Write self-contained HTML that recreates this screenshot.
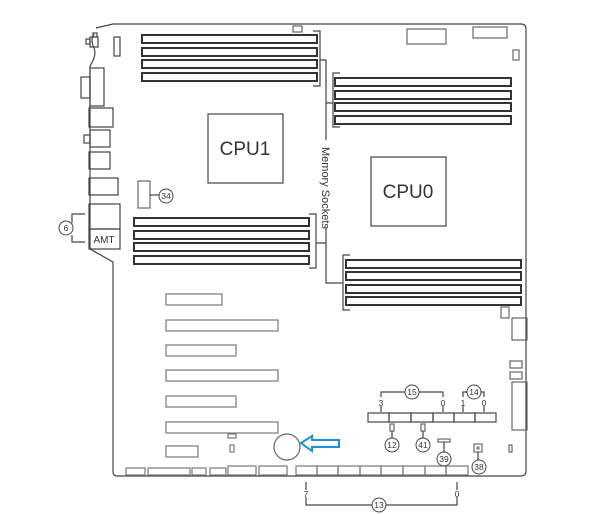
<!DOCTYPE html>
<html><head><meta charset="utf-8"><style>
html,body{margin:0;padding:0;background:#fff;width:616px;height:514px;overflow:hidden}
svg{display:block}
text{font-family:"Liberation Sans",sans-serif;fill:#333}
.n{font-family:"Liberation Sans Narrow","Liberation Sans",sans-serif}
</style></head><body>
<svg width="616" height="514" viewBox="0 0 616 514" xmlns="http://www.w3.org/2000/svg">
<g fill="none" stroke="#444" stroke-width="1.2">
<path d="M96,28 L113,24 L521,24 Q526,24 526,29 L526,471 Q526,476 521,476 L117,476 Q113,476 113,472 L113,262 L90,249 L90,66"/>
<path d="M94,34 Q90,40 94,48 Q97,55 90,66"/>
<rect x="90" y="37" width="8" height="10"/><rect x="86" y="39" width="4" height="5"/><rect x="93" y="33" width="4" height="4"/>
<rect x="114" y="37" width="6" height="19"/>
<rect x="90" y="68" width="14" height="38"/><rect x="81" y="77" width="9" height="21"/>
<rect x="89" y="108" width="24" height="19"/>
<rect x="90" y="130" width="20" height="17"/><rect x="84" y="135" width="6" height="8"/>
<rect x="89" y="152" width="21" height="17"/>
<rect x="89" y="178" width="29" height="17"/>
<rect x="89" y="204" width="31" height="25"/>
<rect x="89" y="229" width="31" height="20"/>
<path d="M85,214 L72,214 L72,223 M72,235 L72,242 L85,242"/>
<circle cx="66" cy="228" r="7" stroke-width="1"/>
<rect x="138" y="181" width="12" height="27" stroke="#666"/>
<line x1="150" y1="195" x2="159" y2="195"/>
<circle cx="166" cy="196" r="7" stroke-width="1"/>
<g stroke="#333" stroke-width="2">
<rect x="142" y="35" width="175" height="8"/><rect x="142" y="48" width="175" height="8"/><rect x="142" y="60" width="175" height="8"/><rect x="142" y="73" width="175" height="8"/>
<rect x="335" y="78" width="176" height="8"/><rect x="335" y="91" width="176" height="8"/><rect x="335" y="103" width="176" height="8"/><rect x="335" y="116" width="176" height="8"/>
<rect x="134" y="218" width="175" height="8"/><rect x="134" y="231" width="175" height="8"/><rect x="134" y="243" width="175" height="8"/><rect x="134" y="256" width="175" height="8"/>
<rect x="346" y="260" width="175" height="8"/><rect x="346" y="272" width="175" height="8"/><rect x="346" y="285" width="175" height="8"/><rect x="346" y="297" width="175" height="8"/>
</g>
<path d="M313,31 L320,31 L320,86 L313,86 M320,60 L326,60 L326,140"/>
<path d="M340,73 L333,73 L333,127 L340,127 M326,103 L333,103"/>
<rect x="208" y="114" width="75" height="69"/>
<rect x="371" y="157" width="75" height="69"/>
<path d="M309,214 L316,214 L316,268 L309,268 M316,243 L326,243 M326,227 L326,283 L343,283"/>
<path d="M350,255 L343,255 L343,310 L350,310"/>
<rect x="293" y="26" width="9" height="6" stroke="#666"/>
<rect x="407" y="29" width="39" height="15" stroke="#666"/><rect x="473" y="27" width="34" height="11" stroke="#666"/><rect x="513" y="50" width="6" height="10" stroke="#666"/>
<rect x="501" y="307" width="8" height="11" stroke="#666"/><rect x="512" y="318" width="15" height="22" stroke="#666"/>
<rect x="510" y="361" width="12" height="7" stroke="#666"/><rect x="510" y="372" width="12" height="7" stroke="#666"/><rect x="512" y="382" width="15" height="48" stroke="#666"/>
<rect x="509" y="445" width="3" height="7" stroke="#666"/>
<g stroke="#777">
<rect x="166" y="294" width="56" height="11"/><rect x="166" y="320" width="112" height="11"/><rect x="166" y="345" width="70" height="11"/><rect x="166" y="370" width="112" height="11"/><rect x="166" y="396" width="70" height="11"/><rect x="166" y="422" width="112" height="11"/><rect x="166" y="446" width="32" height="11"/>
<rect x="228" y="434" width="8" height="4"/><rect x="230" y="445" width="4" height="7"/>
</g>
<circle cx="287" cy="447" r="13" stroke="#666"/>
<g stroke="#777">
<rect x="126" y="468" width="19" height="7"/><rect x="148" y="468" width="42" height="7"/><rect x="192" y="468" width="14" height="7"/><rect x="210" y="468" width="16" height="7"/><rect x="228" y="466" width="28" height="9"/><rect x="259" y="466" width="28" height="9"/>
<rect x="296" y="466" width="21" height="9"/><rect x="317" y="466" width="21" height="9"/><rect x="338" y="466" width="22" height="9"/><rect x="360" y="466" width="21" height="9"/><rect x="381" y="466" width="22" height="9"/><rect x="403" y="466" width="22" height="9"/><rect x="425" y="466" width="21" height="9"/><rect x="446" y="466" width="22" height="9"/>
</g>
<path d="M306,482 L306,490 M306,497 L306,505 L372,505 M386,505 L457,505 L457,497 M457,482 L457,490"/>
<circle cx="379" cy="505" r="7" stroke-width="1"/>
<rect x="368" y="413" width="21" height="9"/><rect x="389" y="413" width="22" height="9"/><rect x="411" y="413" width="22" height="9"/><rect x="433" y="413" width="21" height="9"/><rect x="454" y="413" width="21" height="9"/><rect x="475" y="413" width="21" height="9"/>
<path d="M381,397 L381,392 L405,392 M419,392 L443,392 L443,397"/>
<circle cx="412" cy="392" r="7" stroke-width="1"/>
<path d="M463,397 L463,392 L467,392 M481,392 L484,392 L484,397"/>
<circle cx="474" cy="392" r="7" stroke-width="1"/>
<path d="M381,406 L381,412 M443,406 L443,412 M463,406 L463,412 M484,406 L484,412"/>
<rect x="390" y="424" width="4" height="7" stroke="#666"/><line x1="392" y1="431" x2="392" y2="438"/><circle cx="392" cy="445" r="7" stroke-width="1"/>
<rect x="421" y="424" width="4" height="7" stroke="#666"/><line x1="423" y1="431" x2="423" y2="438"/><circle cx="423" cy="445" r="7" stroke-width="1"/>
<rect x="438" y="439" width="12" height="3" stroke="#666"/><line x1="444" y1="442" x2="444" y2="452"/><circle cx="444" cy="459" r="7" stroke-width="1"/>
<rect x="474" y="444" width="8" height="8" stroke="#666"/><rect x="477" y="447" width="2" height="2" stroke-width="0.8"/><line x1="478" y1="452" x2="478" y2="460"/><circle cx="479" cy="467" r="7" stroke-width="1"/>
</g>
<path d="M301,443 L312,436 L312,440 L339,440 L339,447 L312,447 L312,451 Z" fill="none" stroke="#1e90d6" stroke-width="2"/>
<text class="n" x="245" y="155" font-size="19" text-anchor="middle">CPU1</text>
<text class="n" x="408" y="198" font-size="19" text-anchor="middle">CPU0</text>
<text class="n" x="104" y="243" font-size="10" text-anchor="middle">AMT</text>
<text class="n" transform="translate(322,147) rotate(90)" font-size="11">Memory Sockets</text>
<g font-size="8.5" text-anchor="middle" class="n">
<text x="66" y="231">6</text>
<text x="166" y="199">34</text>
<text x="412" y="395">15</text>
<text x="474" y="395">14</text>
<text x="392" y="448">12</text>
<text x="423" y="448">41</text>
<text x="444" y="462">39</text>
<text x="479" y="470">38</text>
<text x="379" y="508">13</text>
<text x="306" y="497">7</text>
<text x="457" y="497">0</text>
<text x="381" y="406">3</text>
<text x="443" y="406">0</text>
<text x="463" y="406">1</text>
<text x="484" y="406">0</text>
</g>
</svg>
</body></html>
